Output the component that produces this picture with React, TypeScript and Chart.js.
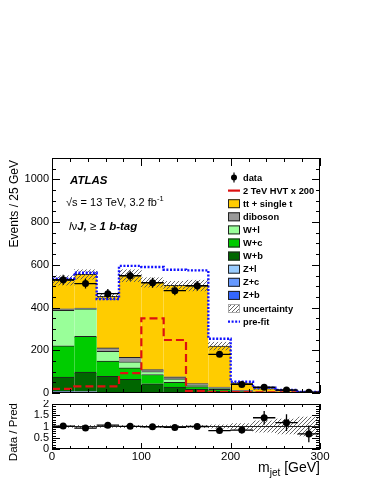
import React, { useEffect, useRef } from 'react';
import { Chart, registerables } from 'chart.js';

Chart.register(...registerables);

const FONT = '"Liberation Sans", Arial, Helvetica, sans-serif';

// ---------------- data ----------------
const binEdges = [0, 25, 50, 75, 100, 125, 150, 175, 200, 225, 250, 275, 300];
const binCenters = [12.5, 37.5, 62.5, 87.5, 112.5, 137.5, 162.5, 187.5, 212.5, 237.5, 262.5, 287.5];
const binHalfWidth = 12.5;

const dataCounts = [530, 512, 465, 549, 516, 479, 502, 181, 40, 27, 14, 4];
const dataErrors = [23, 23, 22, 23, 23, 22, 22, 13, 6, 5, 4, 2];

// stacked backgrounds, bottom to top
const zPlusB = [4, 3, 1, 1, 0.5, 0.5, 0.3, 0.2, 0.1, 0.1, 0, 0];
const zPlusC = [2, 2, 1, 1, 0.5, 0.5, 0.3, 0.2, 0.1, 0.1, 0, 0];
const zPlusL = [2, 2, 1, 1, 0.5, 0.5, 0.3, 0.2, 0.1, 0.1, 0, 0];
const wPlusB = [67, 91, 75, 61, 42, 26, 16, 8, 3, 2, 1, 0.5];
const wPlusC = [146, 167, 71, 54, 43, 23, 13, 8, 3, 1, 0.5, 0.3];
const wPlusL = [166, 129, 46, 28, 14, 16, 7, 6, 3, 1, 0.5, 0.2];
const diboson = [7, 4, 16, 21, 9, 9, 7, 5, 3, 1, 0.5, 0.2];
const ttbarSingleTop = [133, 157, 241, 382, 408, 429, 459, 192, 34, 15, 9.5, 4.8];

const bkgUncertainty = [22, 22, 15, 28, 22, 18, 25, 18, 6, 4, 3, 2];
const hvtSignal = [19, 31, 31, 93, 349, 248, 9, 5, 4, 3, 3, 2];
const preFit = [535, 563, 440, 595, 590, 577, 574, 254, 53, 25, 14, 5];

const ratioValues = [1.02, 0.93, 1.06, 1.01, 0.99, 0.96, 1.0, 0.82, 0.84, 1.39, 1.17, 0.67];
const ratioErrors = [0.05, 0.05, 0.05, 0.05, 0.05, 0.05, 0.05, 0.08, 0.15, 0.3, 0.37, 0.37];
const ratioBand = [0.04, 0.05, 0.04, 0.05, 0.05, 0.04, 0.05, 0.07, 0.13, 0.25, 0.33, 0.42];

const mainYTicks = [0, 200, 400, 600, 800, 1000];
const ratioYTicks = [0, 0.5, 1, 1.5, 2];
const xTickLabels = [0, 100, 200, 300];

const COLORS = {
  zb: '#3366ff',
  zc: '#6699ff',
  zl: '#99ccff',
  wb: '#006600',
  wc: '#00cc00',
  wl: '#99ff99',
  dib: '#999999',
  tt: '#ffcc00',
  sig: '#dd1111',
  pre: '#1111ff',
};

// ---------------- helpers ----------------
const makeHatch = (color: string, size: number) => {
  const c = document.createElement('canvas');
  c.width = size;
  c.height = size;
  const g = c.getContext('2d')!;
  g.strokeStyle = color;
  g.lineWidth = 0.9;
  g.beginPath();
  g.moveTo(0, size);
  g.lineTo(size, 0);
  g.moveTo(-1, 1);
  g.lineTo(1, -1);
  g.moveTo(size - 1, size + 1);
  g.lineTo(size + 1, size - 1);
  g.stroke();
  return g.createPattern(c, 'repeat')!;
};

const stepPoints = (values: number[]) => {
  const pts = binEdges.slice(0, values.length).map((x, i) => ({ x, y: values[i] }));
  pts.push({ x: binEdges[values.length], y: values[values.length - 1] });
  return pts;
};

const drawErrorBars = (chart: any, yId: string, ys: number[], errs: number[]) => {
  const ctx = chart.ctx;
  const xs = chart.scales.x;
  const yS = chart.scales[yId];
  const { top, bottom } = chart.chartArea;
  ctx.save();
  ctx.strokeStyle = '#000';
  ctx.lineWidth = 1.3;
  ctx.beginPath();
  binCenters.forEach((xc, i) => {
    const px = xs.getPixelForValue(xc);
    const py = yS.getPixelForValue(ys[i]);
    const x0 = xs.getPixelForValue(xc - binHalfWidth);
    const x1 = xs.getPixelForValue(xc + binHalfWidth);
    ctx.moveTo(x0, py);
    ctx.lineTo(x1, py);
    const yTop = Math.max(top, yS.getPixelForValue(ys[i] + errs[i]));
    const yBot = Math.min(bottom, yS.getPixelForValue(ys[i] - errs[i]));
    ctx.moveTo(px, yTop);
    ctx.lineTo(px, yBot);
  });
  ctx.stroke();
  ctx.restore();
};

const drawFrameTicks = (
  chart: any,
  yId: string,
  xMinor: number,
  xMajor: number,
  xLen: [number, number],
  yMin: number,
  yMax: number,
  yMinor: number,
  yMajor: number,
  yLen: [number, number]
) => {
  const ctx = chart.ctx;
  const { left, right, top, bottom } = chart.chartArea;
  const xs = chart.scales.x;
  const yS = chart.scales[yId];
  ctx.save();
  ctx.strokeStyle = '#000';
  ctx.lineWidth = 1;
  ctx.beginPath();
  const nx = Math.round(300 / xMinor);
  for (let k = 0; k <= nx; k++) {
    const v = k * xMinor;
    const px = Math.round(xs.getPixelForValue(v)) + 0.5;
    const r = v / xMajor;
    const L = Math.abs(r - Math.round(r)) < 1e-6 ? xLen[0] : xLen[1];
    ctx.moveTo(px, bottom);
    ctx.lineTo(px, bottom - L);
    ctx.moveTo(px, top);
    ctx.lineTo(px, top + L);
  }
  const ny = Math.round((yMax - yMin) / yMinor);
  for (let k = 0; k <= ny; k++) {
    const v = yMin + k * yMinor;
    const py = Math.round(yS.getPixelForValue(v)) + 0.5;
    const r = v / yMajor;
    const L = Math.abs(r - Math.round(r)) < 1e-6 ? yLen[0] : yLen[1];
    ctx.moveTo(left, py);
    ctx.lineTo(left + L, py);
    ctx.moveTo(right, py);
    ctx.lineTo(right - L, py);
  }
  ctx.stroke();
  ctx.strokeRect(Math.round(left) + 0.5, Math.round(top) + 0.5, Math.round(right - left) - 1, Math.round(bottom - top) - 1);
  ctx.restore();
};

const drawSegments = (ctx: CanvasRenderingContext2D, x: number, y: number, segs: [string, string, number?][]) => {
  let cx = x;
  for (const [font, txt, dy] of segs) {
    ctx.font = font;
    ctx.fillText(txt, cx, y + (dy || 0));
    cx += ctx.measureText(txt).width;
  }
  return cx - x;
};

const measureSegments = (ctx: CanvasRenderingContext2D, segs: [string, string, number?][]) => {
  let w = 0;
  for (const [font, txt] of segs) {
    ctx.font = font;
    w += ctx.measureText(txt).width;
  }
  return w;
};

export default function App() {
  const mainRef = useRef<HTMLCanvasElement>(null);
  const ratioRef = useRef<HTMLCanvasElement>(null);

  useEffect(() => {
    const hatch = makeHatch('#555555', 4);
    const stackComponents: [string, number[], string][] = [
      ['Z+b', zPlusB, COLORS.zb],
      ['Z+c', zPlusC, COLORS.zc],
      ['Z+l', zPlusL, COLORS.zl],
      ['W+b', wPlusB, COLORS.wb],
      ['W+c', wPlusC, COLORS.wc],
      ['W+l', wPlusL, COLORS.wl],
      ['diboson', diboson, COLORS.dib],
      ['tt + single t', ttbarSingleTop, COLORS.tt],
    ];
    const totals = binCenters.map((_, i) => stackComponents.reduce((s, c) => s + c[1][i], 0));

    const barCommon = {
      type: 'bar' as const,
      barPercentage: 1,
      categoryPercentage: 1,
      grouped: false,
    };

    const legendEntries: [string, string][] = [
      ['data', 'data'],
      ['line', '2 TeV HVT x 200'],
      ['box:' + COLORS.tt, 'tt + single t'],
      ['box:' + COLORS.dib, 'diboson'],
      ['box:' + COLORS.wl, 'W+l'],
      ['box:' + COLORS.wc, 'W+c'],
      ['box:' + COLORS.wb, 'W+b'],
      ['box:' + COLORS.zl, 'Z+l'],
      ['box:' + COLORS.zc, 'Z+c'],
      ['box:' + COLORS.zb, 'Z+b'],
      ['hatch', 'uncertainty'],
      ['dots', 'pre-fit'],
    ];

    const mainDecor = {
      id: 'mainDecor',
      afterDatasetsDraw(chart: any) {
        drawErrorBars(chart, 'yU', dataCounts, dataErrors);
      },
      afterDraw(chart: any) {
        const ctx: CanvasRenderingContext2D = chart.ctx;
        drawFrameTicks(chart, 'y', 20, 100, [8, 4], 0, 1100, 50, 200, [8, 4]);
        ctx.save();
        ctx.fillStyle = '#000';
        ctx.textBaseline = 'alphabetic';
        ctx.textAlign = 'left';
        // ATLAS label
        ctx.font = `italic bold 11.5px ${FONT}`;
        ctx.fillText('ATLAS', 70, 184);
        drawSegments(ctx, 66, 205.5, [
          [`11px ${FONT}`, '\u221As = 13 TeV, 3.2 fb'],
          [`7.5px ${FONT}`, '-1', -5],
        ]);
        drawSegments(ctx, 69, 230, [
          [`italic 11.5px ${FONT}`, 'l'],
          [`11.5px ${FONT}`, '\u03BD'],
          [`italic bold 11.5px ${FONT}`, 'J, '],
          [`11.5px ${FONT}`, '\u2265 '],
          [`italic bold 11.5px ${FONT}`, '1 b-tag'],
        ]);
        // y title
        ctx.save();
        ctx.translate(15, 160);
        ctx.rotate(-Math.PI / 2);
        ctx.textAlign = 'right';
        ctx.textBaseline = 'middle';
        ctx.font = `12px ${FONT}`;
        ctx.fillText('Events / 25 GeV', 0, 0);
        ctx.restore();

        // legend
        const bx = 228;
        const tx = 243;
        legendEntries.forEach(([kind, label], i) => {
          const y = 177.5 + i * 13.1;
          if (kind === 'data') {
            ctx.beginPath();
            ctx.arc(234, y, 3, 0, Math.PI * 2);
            ctx.fill();
            ctx.beginPath();
            ctx.strokeStyle = '#000';
            ctx.lineWidth = 1.2;
            ctx.moveTo(234, y - 5);
            ctx.lineTo(234, y + 5);
            ctx.stroke();
          } else if (kind === 'line') {
            ctx.beginPath();
            ctx.strokeStyle = COLORS.sig;
            ctx.lineWidth = 2.2;
            ctx.moveTo(bx, y);
            ctx.lineTo(bx + 12, y);
            ctx.stroke();
          } else if (kind === 'dots') {
            ctx.beginPath();
            ctx.strokeStyle = COLORS.pre;
            ctx.lineWidth = 2.4;
            ctx.setLineDash([2, 1.6]);
            ctx.moveTo(bx, y);
            ctx.lineTo(bx + 12, y);
            ctx.stroke();
            ctx.setLineDash([]);
          } else if (kind === 'hatch') {
            ctx.fillStyle = hatch;
            ctx.fillRect(bx, y - 4.5, 12, 9);
            ctx.strokeStyle = '#aaaaaa';
            ctx.lineWidth = 1;
            ctx.strokeRect(bx + 0.5, y - 4, 11, 8);
          } else {
            ctx.fillStyle = kind.slice(4);
            ctx.fillRect(bx, y - 4.5, 12, 9);
            ctx.strokeStyle = '#222';
            ctx.lineWidth = 1;
            ctx.strokeRect(bx + 0.5, y - 4, 11, 8);
          }
          ctx.fillStyle = '#000';
          ctx.font = `bold 9.3px ${FONT}`;
          ctx.textBaseline = 'middle';
          ctx.textAlign = 'left';
          ctx.fillText(label, tx, y + 0.5);
        });
        ctx.restore();
      },
    };

    const main = new Chart(mainRef.current!, {
      type: 'bar',
      data: {
        datasets: [
          {
            type: 'line',
            label: 'data',
            yAxisID: 'yU',
            order: 0,
            showLine: false,
            data: binCenters.map((x, i) => ({ x, y: dataCounts[i] })),
            pointRadius: 3.5,
            pointBackgroundColor: '#000',
            pointBorderColor: '#000',
            pointBorderWidth: 0,
          } as any,
          {
            type: 'line',
            label: 'pre-fit',
            yAxisID: 'yU',
            order: 1,
            data: stepPoints(preFit),
            stepped: true,
            borderColor: COLORS.pre,
            borderWidth: 2.4,
            borderDash: [2, 1.6],
            pointRadius: 0,
            fill: false,
          } as any,
          {
            type: 'line',
            label: '2 TeV HVT x 200',
            yAxisID: 'yU',
            order: 2,
            data: stepPoints(hvtSignal),
            stepped: true,
            borderColor: COLORS.sig,
            borderWidth: 2.2,
            borderDash: [8, 4],
            pointRadius: 0,
            fill: false,
          } as any,
          {
            ...barCommon,
            label: 'uncertainty',
            yAxisID: 'yU',
            order: 3,
            data: binCenters.map((x, i) => ({ x, y: [totals[i] - bkgUncertainty[i], totals[i] + bkgUncertainty[i]] })),
            backgroundColor: hatch,
            borderWidth: 0,
          } as any,
          ...stackComponents.map(([label, values, color]) => ({
            ...barCommon,
            label,
            yAxisID: 'y',
            order: 4,
            data: binCenters.map((x, i) => ({ x, y: values[i] })),
            backgroundColor: color,
            borderColor: '#222',
            borderWidth: { top: 1, right: 0, bottom: 0, left: 0 },
            borderSkipped: false,
          })) as any,
        ],
      },
      options: {
        responsive: false,
        animation: false,
        devicePixelRatio: 1,
        events: [],
        layout: { padding: { left: 8, right: 54, top: 158, bottom: 7 } },
        plugins: { legend: { display: false }, tooltip: { enabled: false } },
        scales: {
          x: { type: 'linear', min: 0, max: 300, offset: false, display: false },
          y: {
            stacked: true,
            min: 0,
            max: 1100,
            afterFit: (s: any) => {
              s.width = 44;
              s.paddingTop = 0;
              s.paddingBottom = 0;
            },
            grid: { display: false, drawTicks: false },
            border: { display: false },
            ticks: {
              stepSize: 200,
              includeBounds: false,
              autoSkip: false,
              padding: 3,
              color: '#000',
              font: { family: FONT, size: 11 },
              callback: (v: any) => (mainYTicks.includes(Number(v)) ? String(v) : ''),
            },
          },
          yU: { type: 'linear', stacked: false, min: 0, max: 1100, display: false },
        },
      } as any,
      plugins: [mainDecor],
    });

    const ratioDecor = {
      id: 'ratioDecor',
      afterDatasetsDraw(chart: any) {
        drawErrorBars(chart, 'y', ratioValues, ratioErrors);
      },
      afterDraw(chart: any) {
        const ctx: CanvasRenderingContext2D = chart.ctx;
        drawFrameTicks(chart, 'y', 20, 100, [6, 3], 0, 2, 0.1, 0.5, [8, 4]);
        ctx.save();
        ctx.fillStyle = '#000';
        // y title
        ctx.save();
        ctx.translate(14, 3);
        ctx.rotate(-Math.PI / 2);
        ctx.textAlign = 'right';
        ctx.textBaseline = 'middle';
        ctx.font = `11.5px ${FONT}`;
        ctx.fillText('Data / Pred', 0, 0);
        ctx.restore();
        // x title
        const segs: [string, string, number?][] = [
          [`14px ${FONT}`, 'm'],
          [`10px ${FONT}`, 'jet', 4],
          [`14px ${FONT}`, ' [GeV]'],
        ];
        ctx.textAlign = 'left';
        ctx.textBaseline = 'alphabetic';
        const w = measureSegments(ctx, segs);
        drawSegments(ctx, chart.chartArea.right - w, 72, segs);
        ctx.restore();
      },
    };

    const ratio = new Chart(ratioRef.current!, {
      type: 'bar',
      data: {
        datasets: [
          {
            type: 'line',
            label: 'ratio',
            order: 0,
            showLine: false,
            data: binCenters.map((x, i) => ({ x, y: ratioValues[i] })),
            pointRadius: 3.5,
            pointBackgroundColor: '#000',
            pointBorderColor: '#000',
            pointBorderWidth: 0,
          } as any,
          {
            type: 'line',
            label: 'unity',
            order: 1,
            data: [
              { x: 0, y: 1 },
              { x: 300, y: 1 },
            ],
            borderColor: '#222',
            borderWidth: 1,
            pointRadius: 0,
            fill: false,
          } as any,
          {
            ...barCommon,
            label: 'band',
            order: 2,
            data: binCenters.map((x, i) => ({ x, y: [1 - ratioBand[i], 1 + ratioBand[i]] })),
            backgroundColor: hatch,
            borderWidth: 0,
          } as any,
        ],
      },
      options: {
        responsive: false,
        animation: false,
        devicePixelRatio: 1,
        events: [],
        layout: { padding: { left: 8, right: 54, top: 4, bottom: 0 } },
        plugins: { legend: { display: false }, tooltip: { enabled: false } },
        scales: {
          x: {
            type: 'linear',
            min: 0,
            max: 300,
            offset: false,
            afterFit: (s: any) => {
              s.height = 35;
              s.paddingLeft = 0;
              s.paddingRight = 0;
            },
            grid: { display: false, drawTicks: false },
            border: { display: false },
            ticks: {
              stepSize: 100,
              padding: 1,
              maxRotation: 0,
              autoSkip: false,
              color: '#000',
              font: { family: FONT, size: 11.5 },
              callback: (v: any) => (xTickLabels.includes(Number(v)) ? String(v) : ''),
            },
          },
          y: {
            min: 0,
            max: 2,
            afterFit: (s: any) => {
              s.width = 44;
              s.paddingTop = 0;
              s.paddingBottom = 0;
            },
            grid: { display: false, drawTicks: false },
            border: { display: false },
            ticks: {
              stepSize: 0.5,
              autoSkip: false,
              padding: 3,
              color: '#000',
              font: { family: FONT, size: 11 },
              callback: (v: any) => (ratioYTicks.includes(Number(v)) ? String(v) : ''),
            },
          },
        },
      } as any,
      plugins: [ratioDecor],
    });

    return () => {
      main.destroy();
      ratio.destroy();
    };
  }, []);

  return (
    <div style={{ position: 'fixed', left: 0, top: 0, width: 374, height: 484, background: '#fff' }}>
      <canvas
        ref={mainRef}
        width={374}
        height={400}
        style={{ position: 'absolute', left: 0, top: 0, width: 374, height: 400 }}
      />
      <canvas
        ref={ratioRef}
        width={374}
        height={84}
        style={{ position: 'absolute', left: 0, top: 400, width: 374, height: 84 }}
      />
    </div>
  );
}
